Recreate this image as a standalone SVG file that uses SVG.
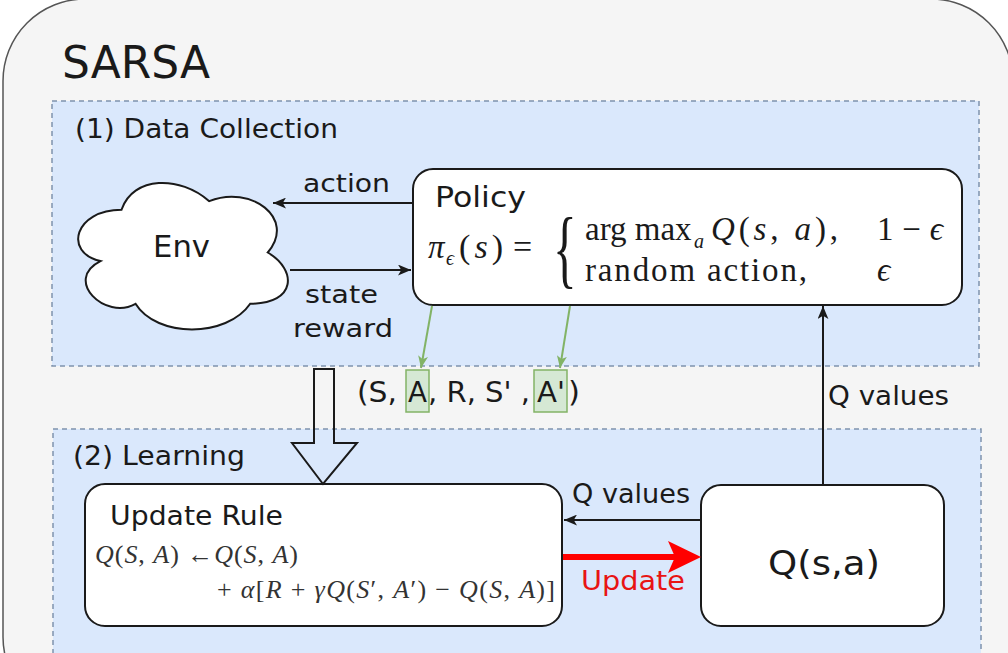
<svg xmlns="http://www.w3.org/2000/svg" width="1008" height="653" viewBox="0 0 1008 653">
  <style>
    .lbl { font-family: "DejaVu Sans", "Liberation Sans", sans-serif; fill: #1a1a1a; }
    .math { font-family: "Liberation Serif", "DejaVu Serif", serif; fill: #1a1a1a; }
    .mathg { font-family: "Liberation Serif", "DejaVu Serif", serif; fill: #333333; }
    .it { font-style: italic; }
    .box { fill: #ffffff; stroke: #1a1a1a; stroke-width: 2; }
    .cont { fill: #dae8fc; stroke: #7f93ad; stroke-width: 1.5; stroke-dasharray: 5 4; }
    .edge { fill: none; stroke: #1a1a1a; stroke-width: 2; }
    .gedge { fill: none; stroke: #82b366; stroke-width: 2; }
    .gbox { fill: #d5e8d4; stroke: #82b366; stroke-width: 1.5; }
  </style>
  <defs>
    <marker id="arr" viewBox="0 0 12 10" refX="12" refY="5" markerWidth="13" markerHeight="11" markerUnits="userSpaceOnUse" orient="auto">
      <path d="M0,0 L12,5 L0,10 L3,5 Z" fill="#1a1a1a"/>
    </marker>
    <marker id="garr" viewBox="0 0 12 10" refX="12" refY="5" markerWidth="12" markerHeight="10" markerUnits="userSpaceOnUse" orient="auto">
      <path d="M0,0 L12,5 L0,10 L3,5 Z" fill="#82b366"/>
    </marker>
  </defs>

  <!-- outer frame -->
  <g id="sarsa-frame">
    <rect x="3" y="-1" width="1010" height="720" rx="82" ry="82" fill="#f5f5f5" stroke="#555555" stroke-width="1.5"/>
    <text class="lbl" x="62" y="78" font-size="44" textLength="148" lengthAdjust="spacingAndGlyphs">SARSA</text>
  </g>

  <!-- containers -->
  <g id="data-collection">
    <rect class="cont" x="52" y="101" width="927" height="265"/>
    <text class="lbl" x="75" y="138" font-size="26" textLength="263" lengthAdjust="spacingAndGlyphs">(1) Data Collection</text>
  </g>
  <g id="learning">
    <rect class="cont" x="53" y="429" width="928" height="260"/>
    <text class="lbl" x="73" y="465" font-size="26" textLength="172" lengthAdjust="spacingAndGlyphs">(2) Learning</text>
  </g>

  <!-- Env cloud -->
  <g id="env">
    <path d="M121.5,209.75 C74.7,209.75 63,252.5 100.44,261.05 C63,279.86 105.12,320.9 135.54,303.8 C156.6,338 226.8,338 250.2,303.8 C297,303.8 297,269.6 267.75,252.5 C297,218.3 250.2,184.1 209.25,201.2 C180,175.55 133.2,175.55 121.5,209.75 Z" fill="#ffffff" stroke="#1a1a1a" stroke-width="2"/>
    <text class="lbl" x="153" y="257" font-size="30" textLength="57" lengthAdjust="spacingAndGlyphs">Env</text>
  </g>

  <!-- Policy -->
  <g id="policy">
    <rect class="box" x="413" y="169" width="549" height="136" rx="20" ry="20"/>
    <text class="lbl" x="435" y="207" font-size="28" textLength="91" lengthAdjust="spacingAndGlyphs">Policy</text>
    <text class="math it" x="428" y="258" font-size="33">π</text>
    <text class="math it" x="446" y="265" font-size="20">ϵ</text>
    <text class="math" x="459" y="258" font-size="34" textLength="44" lengthAdjust="spacing">(<tspan class="it">s</tspan>)</text>
    <text class="math" x="513" y="258" font-size="34">=</text>
    <text class="math" transform="translate(553,277) scale(0.85,1.5)" font-size="58">{</text>
    <text class="math" x="585" y="240" font-size="33">arg max</text>
    <text class="math it" x="694" y="248" font-size="20">a</text>
    <text class="math" x="711" y="240" font-size="33" textLength="127" lengthAdjust="spacing"><tspan class="it">Q</tspan>(<tspan class="it">s</tspan>, <tspan class="it">a</tspan>),</text>
    <text class="math" x="877" y="240" font-size="33" textLength="66" lengthAdjust="spacing">1 − <tspan class="it">ϵ</tspan></text>
    <text class="math" x="585" y="281" font-size="33" textLength="222" lengthAdjust="spacing">random action,</text>
    <text class="math it" x="877" y="281" font-size="33">ϵ</text>
  </g>

  <!-- Update Rule -->
  <g id="update-rule">
    <rect class="box" x="85" y="484" width="477" height="142" rx="20" ry="20"/>
    <text class="lbl" x="110" y="525" font-size="26" textLength="173" lengthAdjust="spacingAndGlyphs">Update Rule</text>
    <text class="mathg" x="95" y="563" font-size="26" textLength="203" lengthAdjust="spacing"><tspan class="it">Q</tspan>(<tspan class="it">S</tspan>, <tspan class="it">A</tspan>) ←<tspan class="it">Q</tspan>(<tspan class="it">S</tspan>, <tspan class="it">A</tspan>)</text>
    <text class="mathg" x="217" y="598" font-size="26" textLength="338" lengthAdjust="spacing">+ <tspan class="it">α</tspan>[<tspan class="it">R</tspan> + <tspan class="it">γQ</tspan>(<tspan class="it">S</tspan>′, <tspan class="it">A</tspan>′) − <tspan class="it">Q</tspan>(<tspan class="it">S</tspan>, <tspan class="it">A</tspan>)]</text>
  </g>

  <!-- Q(s,a) -->
  <g id="q-table">
    <rect class="box" x="701" y="485" width="243" height="141" rx="20" ry="20"/>
    <text class="lbl" x="768" y="575" font-size="34" textLength="112" lengthAdjust="spacingAndGlyphs">Q(s,a)</text>
  </g>

  <!-- tuple -->
  <g id="tuple">
    <rect class="gbox" x="406" y="370" width="23" height="42"/>
    <rect class="gbox" x="534" y="370" width="33" height="42"/>
    <text class="lbl" x="357" y="402" font-size="28" textLength="40" lengthAdjust="spacingAndGlyphs">(S,</text>
    <text class="lbl" x="408" y="402" font-size="28" textLength="19" lengthAdjust="spacingAndGlyphs">A</text>
    <text class="lbl" x="428" y="402" font-size="28" textLength="102" lengthAdjust="spacingAndGlyphs">, R, S' ,</text>
    <text class="lbl" x="537" y="402" font-size="28" textLength="28" lengthAdjust="spacingAndGlyphs">A'</text>
    <text class="lbl" x="568" y="402" font-size="28" textLength="12" lengthAdjust="spacingAndGlyphs">)</text>
  </g>

  <!-- connectors -->
  <g id="connectors">
    <line class="edge" x1="413" y1="203" x2="273" y2="203" marker-end="url(#arr)"/>
    <text class="lbl" x="303" y="192" font-size="25" textLength="87" lengthAdjust="spacingAndGlyphs">action</text>
    <line class="edge" x1="290" y1="270" x2="411" y2="270" marker-end="url(#arr)"/>
    <text class="lbl" x="305" y="303" font-size="25" textLength="73" lengthAdjust="spacingAndGlyphs">state</text>
    <text class="lbl" x="293" y="337" font-size="25" textLength="100" lengthAdjust="spacingAndGlyphs">reward</text>

    <line class="gedge" x1="432" y1="306" x2="421" y2="368" marker-end="url(#garr)"/>
    <line class="gedge" x1="570" y1="306" x2="560" y2="368" marker-end="url(#garr)"/>

    <polygon points="314,369 334,369 334,443 357,443 323,484 292,443 314,443" fill="none" stroke="#1a1a1a" stroke-width="2" stroke-linejoin="miter"/>

    <line class="edge" x1="823" y1="485" x2="823" y2="306" marker-end="url(#arr)"/>
    <text class="lbl" x="828" y="405" font-size="26" textLength="121" lengthAdjust="spacingAndGlyphs">Q values</text>

    <line class="edge" x1="701" y1="520" x2="564" y2="520" marker-end="url(#arr)"/>
    <text class="lbl" x="572" y="503" font-size="26" textLength="118" lengthAdjust="spacingAndGlyphs">Q values</text>

    <line x1="563" y1="557" x2="676" y2="557" stroke="#ff0000" stroke-width="6"/>
    <polygon points="668,541 701,557 668,573 675,557" fill="#ff0000"/>
    <text x="581" y="590" font-family="DejaVu Sans, Liberation Sans, sans-serif" font-size="26" fill="#e81414" textLength="104" lengthAdjust="spacingAndGlyphs">Update</text>
  </g>
</svg>
